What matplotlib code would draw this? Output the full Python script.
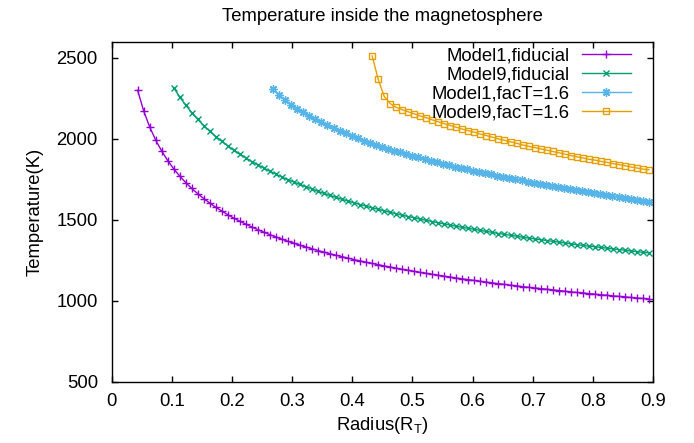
import numpy as np
import matplotlib
matplotlib.use("Agg")
import matplotlib.pyplot as plt

plt.rcParams['font.family'] = ['Liberation Sans', 'DejaVu Sans']
plt.rcParams['mathtext.fontset'] = 'custom'
plt.rcParams['mathtext.rm'] = 'Liberation Sans'
plt.rcParams['mathtext.it'] = 'Liberation Sans:italic'

# radius grids (R_T) and temperatures (K)
r_m1 = np.linspace(0.043, 0.893, 86)
T_m1 = [2300, 2174, 2074, 1993, 1925, 1866, 1815, 1770, 1730, 1694,
        1661, 1631, 1603, 1577, 1554, 1531, 1510, 1491, 1473, 1455,
        1439, 1423, 1408, 1394, 1380, 1367, 1355, 1343, 1332, 1321,
        1310, 1300, 1290, 1281, 1272, 1263, 1254, 1246, 1238, 1230,
        1223, 1215, 1208, 1201, 1194, 1188, 1181, 1175, 1169, 1163,
        1157, 1151, 1146, 1140, 1135, 1130, 1125, 1120, 1115, 1110,
        1105, 1101, 1096, 1092, 1087, 1083, 1079, 1075, 1071, 1067,
        1063, 1059, 1055, 1051, 1048, 1044, 1041, 1037, 1034, 1030,
        1027, 1024, 1020, 1017, 1014, 1011]

r_m9 = np.linspace(0.103, 0.893, 80)
T_m9 = [2316, 2258, 2208, 2162, 2120, 2082, 2046, 2014, 1985, 1956,
        1929, 1905, 1882, 1859, 1839, 1819, 1800, 1782, 1764, 1747,
        1733, 1718, 1704, 1690, 1675, 1663, 1650, 1638, 1627, 1615,
        1605, 1594, 1584, 1574, 1565, 1555, 1546, 1537, 1528, 1520,
        1512, 1504, 1497, 1489, 1481, 1474, 1467, 1460, 1453, 1447,
        1441, 1434, 1428, 1422, 1415, 1410, 1404, 1399, 1392, 1387,
        1382, 1377, 1372, 1367, 1362, 1357, 1351, 1346, 1342, 1337,
        1334, 1329, 1325, 1320, 1316, 1312, 1307, 1303, 1299, 1296]

r_m1f = np.linspace(0.268, 0.893, 63)
T_m1f = [2309, 2272, 2240, 2212, 2186, 2163, 2141, 2121, 2101, 2083,
         2066, 2049, 2033, 2018, 2003, 1989, 1975, 1962, 1950, 1938,
         1927, 1916, 1906, 1895, 1885, 1875, 1866, 1856, 1846, 1838,
         1829, 1820, 1812, 1804, 1796, 1788, 1780, 1772, 1765, 1758,
         1750, 1743, 1736, 1730, 1723, 1717, 1710, 1704, 1698, 1691,
         1685, 1679, 1674, 1668, 1662, 1655, 1648, 1642, 1636, 1630,
         1624, 1618, 1612]

r_m9f = np.linspace(0.433, 0.893, 47)
T_m9f = [2512, 2368, 2262, 2218,
         2194, 2180, 2167, 2154, 2141, 2130, 2117, 2105, 2093, 2082,
         2071, 2060, 2050, 2041, 2029, 2020, 2010, 1999, 1991, 1981,
         1973, 1962, 1954, 1946, 1938, 1930, 1922, 1914, 1906, 1897,
         1889, 1882, 1874, 1869, 1861, 1855, 1847, 1841, 1834, 1826,
         1820, 1813, 1809]

fs = 13.3

fig = plt.figure(figsize=(6.94, 4.43), dpi=100)
ax = fig.add_axes([0.161, 0.1384, 0.780, 0.7675])

ax.plot(r_m1, T_m1, color='#9400d3', lw=1, marker='+', ms=6, mew=1,
        label='Model1,fiducial')
ax.plot(r_m9, T_m9, color='#009e73', lw=1, marker='x', ms=5, mew=1,
        label='Model9,fiducial')
ax.plot(r_m1f, T_m1f, color='#56b4e9', lw=1, marker=(8, 2, 0), ms=6, mew=1,
        label='Model1,facT=1.6')
ax.plot(r_m9f, T_m9f, color='#e69f00', lw=1, marker='s', ms=5, mew=1,
        mfc='none', label='Model9,facT=1.6')

ax.set_xlim(0, 0.9)
ax.set_ylim(500, 2600)
ax.set_xticks(np.arange(0, 0.91, 0.1))
ax.set_xticklabels(['0', '0.1', '0.2', '0.3', '0.4', '0.5', '0.6', '0.7', '0.8', '0.9'])
ax.set_yticks([500, 1000, 1500, 2000, 2500])
ax.tick_params(direction='in', top=True, right=True, length=4, width=1,
               labelsize=fs)
ax.tick_params(axis='x', pad=8)
ax.tick_params(axis='y', pad=10)
for s in ax.spines.values():
    s.set_linewidth(1)

ax.set_title('Temperature inside the magnetosphere', fontsize=fs, pad=15)
ax.set_xlabel(r'Radius(R$_\mathrm{T}$)', fontsize=fs, labelpad=4)
ax.set_ylabel('Temperature(K)', fontsize=fs, labelpad=9)

ax.legend(loc='upper right', bbox_to_anchor=(0.96, 0.982), frameon=False,
          markerfirst=False, fontsize=fs, handlelength=2.7, handletextpad=0.65,
          labelspacing=0.1, borderpad=0, borderaxespad=0)

fig.savefig('out.png', dpi=100)
